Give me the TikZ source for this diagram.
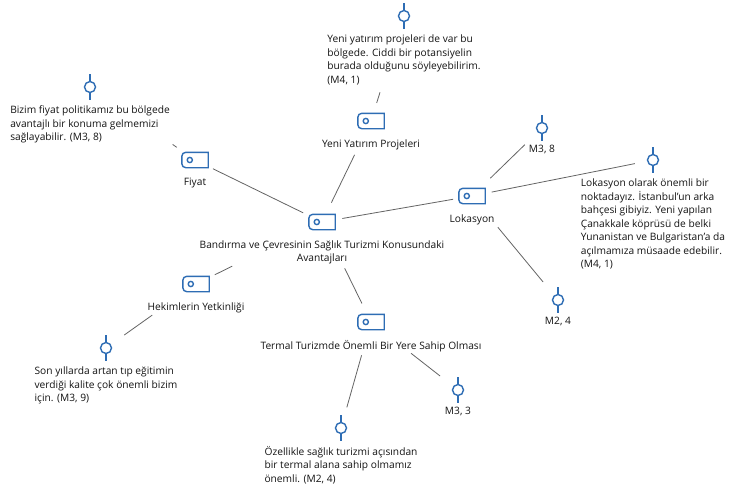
\documentclass[tikz,border=0pt]{standalone}
\usepackage{fontspec}
\setmainfont{Open Sans}
\usetikzlibrary{positioning}
\definecolor{ikonmavi}{RGB}{46,109,180}
\definecolor{baggri}{RGB}{100,100,100}
\definecolor{yazi}{RGB}{20,20,20}

% kod ikonu: solu yuvarlak etiket + kucuk daire
\newcommand{\kodikon}[1]{%
  \draw[ikon] (#1.north east) -- (#1.south east) -- ([xshift=4pt]#1.south west)
    arc[start angle=270, end angle=180, radius=4pt] -- ([yshift=-4pt]#1.north west)
    arc[start angle=180, end angle=90, radius=4pt] -- cycle;
  \draw[ikon] ([xshift=8pt]#1.west) circle (2.6pt);}
% not ikonu: daire + iki sap
\newcommand{\notikon}[1]{%
  \draw[ikon] (#1.north) -- ([yshift=-7pt]#1.north) ([yshift=7pt]#1.south) -- (#1.south);
  \draw[ikon] (#1.center) circle (5.5pt);}

\begin{document}
\begin{tikzpicture}[x=1pt, y=-1pt,
  kod/.style={minimum width=26pt, minimum height=15pt, inner sep=0pt},
  notpin/.style={minimum width=12pt, minimum height=25pt, inner sep=0pt},
  etiket/.style={font=\fontsize{10.2}{13.5}\selectfont, text=yazi, inner sep=0pt, align=center},
  alinti/.style={font=\fontsize{10.2}{13.5}\selectfont, text=yazi, inner sep=0pt, align=left},
  ikon/.style={draw=ikonmavi, line width=1.4pt},
  bag/.style={draw=baggri, line width=0.8pt}]
\useasboundingbox[fill=white] (0,0) rectangle (729,488);

% kodlar
\node[kod] (merkez) at (322,222) {};
\node[etiket, below=10.5pt of merkez] (merkez-e) {Bandırma ve Çevresinin Sağlık Turizmi Konusundaki\\Avantajları};
\node[kod] (fiyat) at (195,160) {};
\node[etiket, below=10.5pt of fiyat] (fiyat-e) {Fiyat};
\node[kod] (yeni) at (371,121) {};
\node[etiket, below=10.5pt of yeni] (yeni-e) {Yeni Yatırım Projeleri};
\node[kod] (lokasyon) at (472,196) {};
\node[etiket, below=10.5pt of lokasyon] (lokasyon-e) {Lokasyon};
\node[kod] (hekim) at (196,284) {};
\node[etiket, below=10.5pt of hekim] (hekim-e) {Hekimlerin Yetkinliği};
\node[kod] (termal) at (371,322) {};
\node[etiket, below=10.5pt of termal] (termal-e) {Termal Turizmde Önemli Bir Yere Sahip Olması};
\foreach \k in {merkez,fiyat,yeni,lokasyon,hekim,termal} {\kodikon{\k}}

% notlar
\node[notpin] (pyeni) at (404,16) {};
\node[alinti, below=6pt of pyeni] (qyeni) {Yeni yatırım projeleri de var bu\\bölgede. Ciddi bir potansiyelin\\burada olduğunu söyleyebilirim.\\(M4, 1)};
\node[notpin] (pfiyat) at (90,87) {};
\node[alinti, below=6pt of pfiyat] (qfiyat) {Bizim fiyat politikamız bu bölgede\\avantajlı bir konuma gelmemizi\\sağlayabilir. (M3, 8)};
\node[notpin] (plok) at (653,160) {};
\node[alinti, below=6pt of plok] (qlok) {Lokasyon olarak önemli bir\\noktadayız. İstanbul’un arka\\bahçesi gibiyiz. Yeni yapılan\\Çanakkale köprüsü de belki\\Yunanistan ve Bulgaristan’a da\\açılmamıza müsaade edebilir.\\(M4, 1)};
\node[notpin] (phekim) at (106,348) {};
\node[alinti, below=6pt of phekim] (qhekim) {Son yıllarda artan tıp eğitimin\\verdiği kalite çok önemli bizim\\için. (M3, 9)};
\node[notpin] (pozel) at (341,428) {};
\node[alinti, below=5pt of pozel] (qozel) {Özellikle sağlık turizmi açısından\\bir termal alana sahip olmamız\\önemli. (M2, 4)};
\node[notpin] (m38) at (542,128) {};
\node[etiket, below=4.5pt of m38] (m38-e) {M3, 8};
\node[notpin] (m24) at (558,300) {};
\node[etiket, below=4.5pt of m24] (m24-e) {M2, 4};
\node[notpin] (m33) at (458,390) {};
\node[etiket, below=4.5pt of m33] (m33-e) {M3, 3};
\foreach \n in {pyeni,pfiyat,plok,phekim,pozel,m38,m24,m33} {\notikon{\n}}

% baglantilar
\draw[bag, shorten <=20pt, shorten >=21pt] (fiyat.center) -- (merkez.center);
\draw[bag, shorten <=37.6pt, shorten >=21.5pt] (yeni.center) -- (merkez.center);
\draw[bag, shorten <=20.6pt, shorten >=19.2pt] (merkez.center) -- (lokasyon.center);
\draw[bag, shorten <=100pt, shorten >=21pt] (merkez.center) -- (hekim.center);
\draw[bag, shorten <=51.6pt, shorten >=20.7pt] (merkez.center) -- (termal.center);
\draw[bag, shorten <=18.9pt, shorten >=80pt] (yeni.center) -- (pyeni.center);
\draw[bag, shorten <=22.2pt, shorten >=100.7pt] (fiyat.center) -- (pfiyat.center);
\draw[bag, shorten <=25.5pt, shorten >=24pt] (lokasyon.center) -- (m38.center);
\draw[bag, shorten <=20pt, shorten >=18.5pt] (lokasyon.center) -- (plok.center);
\draw[bag, shorten <=40.5pt, shorten >=23.4pt] (lokasyon.center) -- (m24.center);
\draw[bag, shorten <=53.7pt, shorten >=22.4pt] (hekim.center) -- (phekim.center);
\draw[bag, shorten <=50.9pt, shorten >=22.8pt] (termal.center) -- (m33.center);
\draw[bag, shorten <=34.6pt, shorten >=21.5pt] (termal.center) -- (pozel.center);
\end{tikzpicture}
\end{document}
